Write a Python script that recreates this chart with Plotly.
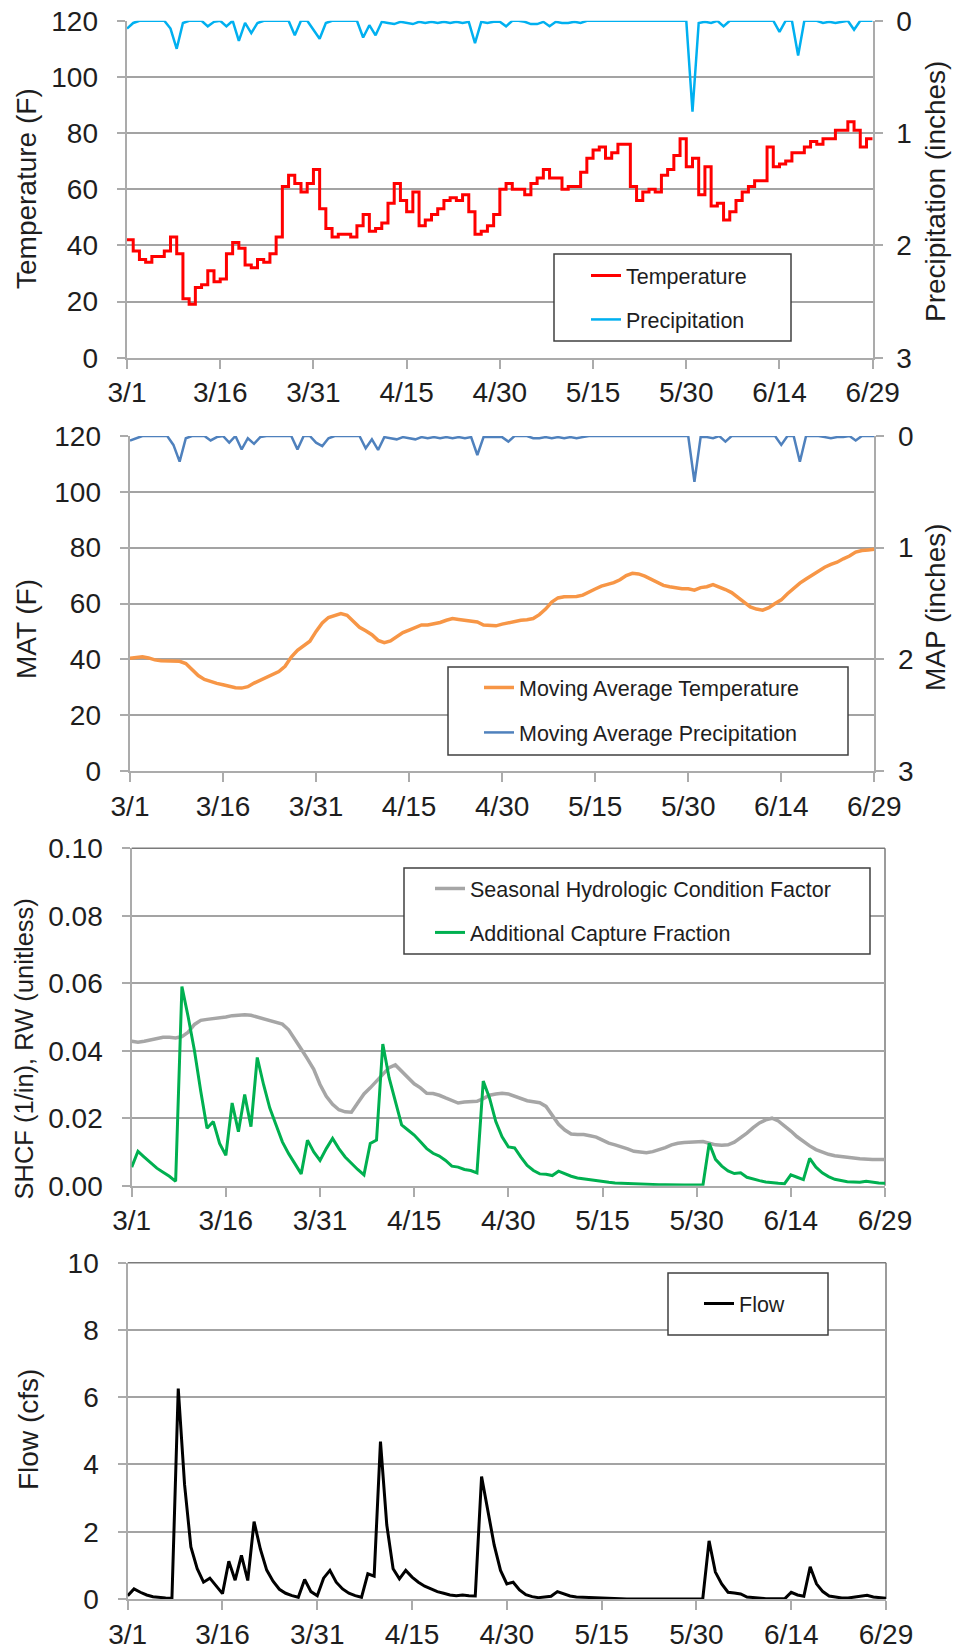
import pandas as pd
import plotly.graph_objects as go

# ---------------- data ----------------
START_DATE = "2013-03-01"
N_DAYS = 121
DATES = pd.date_range(START_DATE, periods=N_DAYS, freq="D").strftime("%Y-%m-%d").tolist()
TICK_LABELS = ["3/1", "3/16", "3/31", "4/15", "4/30", "5/15", "5/30", "6/14", "6/29"]
TICK_DATES = DATES[::15]

# daily temperature (F)
TEMPERATURE = [
    42, 38, 35, 34, 36, 36, 38, 43, 37, 21,
    19, 25, 26, 31, 27, 28, 37, 41, 39, 33,
    32, 35, 34, 37, 43, 61, 65, 62, 59, 62,
    67, 53, 46, 43, 44, 44, 43, 47, 51, 45,
    46, 48, 55, 62, 56, 52, 59, 47, 49, 51,
    53, 56, 57, 56, 58, 52, 44, 45, 47, 51,
    60, 62, 60, 60, 58, 62, 64, 67, 64, 64,
    60, 61, 61, 66, 71, 74, 75, 71, 73, 76,
    76, 61, 56, 59, 60, 59, 65, 67, 72, 78,
    68, 71, 58, 68, 54, 55, 49, 52, 56, 59,
    61, 63, 63, 75, 68, 69, 70, 73, 73, 75,
    77, 76, 78, 78, 81, 81, 84, 81, 75, 78,
    78,
]

# daily precipitation (inches)
PRECIPITATION = [
    0.07, 0.02, 0.00, 0.00, 0.00, 0.00, 0.00, 0.07, 0.25, 0.02,
    0.00, 0.00, 0.00, 0.05, 0.01, 0.00, 0.05, 0.00, 0.18, 0.02,
    0.11, 0.02, 0.00, 0.00, 0.00, 0.00, 0.00, 0.13, 0.00, 0.00,
    0.08, 0.16, 0.02, 0.00, 0.00, 0.00, 0.00, 0.00, 0.15, 0.04,
    0.13, 0.01, 0.02, 0.03, 0.01, 0.02, 0.03, 0.01, 0.02, 0.01,
    0.02, 0.01, 0.02, 0.01, 0.02, 0.01, 0.20, 0.01, 0.02, 0.01,
    0.01, 0.05, 0.00, 0.00, 0.01, 0.03, 0.03, 0.01, 0.05, 0.01,
    0.02, 0.02, 0.01, 0.02, 0.00, 0.00, 0.00, 0.00, 0.00, 0.00,
    0.00, 0.00, 0.00, 0.00, 0.00, 0.00, 0.00, 0.00, 0.00, 0.00,
    0.00, 0.81, 0.02, 0.01, 0.02, 0.00, 0.05, 0.00, 0.00, 0.00,
    0.00, 0.00, 0.00, 0.00, 0.00, 0.10, 0.00, 0.00, 0.31, 0.00,
    0.00, 0.00, 0.02, 0.01, 0.02, 0.01, 0.00, 0.08, 0.00, 0.00,
    0.00,
]

# moving average temperature (F)
MAT = [
    40.4, 40.7, 40.9, 40.5, 39.8, 39.5, 39.5, 39.4, 39.3, 38.5,
    36.5, 34.2, 32.8, 32.0, 31.4, 30.9, 30.2, 29.8, 29.7, 30.2,
    31.5, 32.5, 33.6, 34.6, 35.6, 37.5, 40.8, 43.2, 44.8, 46.5,
    50.0, 53.0, 55.0, 55.8, 56.4, 55.8, 53.8, 51.5, 50.2, 48.8,
    46.8, 46.0, 46.6, 48.0, 49.6, 50.5, 51.5, 52.3, 52.3, 52.6,
    53.2, 54.0, 54.6, 54.3, 54.1, 53.8, 53.4, 52.3, 52.0, 52.0,
    52.6, 53.1, 53.6, 54.0, 54.2, 54.6, 56.0, 58.0, 60.5, 62.0,
    62.4, 62.3, 62.5, 63.0, 64.2, 65.2, 66.2, 66.8, 67.5, 68.5,
    70.0, 70.8, 70.6, 69.8, 68.8, 67.5, 66.5, 66.0, 65.6, 65.3,
    65.3, 64.8, 65.7, 66.0, 66.8, 66.0, 65.0, 63.9, 62.0, 60.5,
    58.8, 58.0, 57.6, 58.5, 60.0, 61.3, 63.5, 65.5, 67.3, 68.8,
    70.3, 71.8, 73.0, 74.0, 74.8, 76.0, 77.0, 78.4, 79.0, 79.2,
    79.4,
]

# moving average precipitation (inches)
MAP = [
    0.04, 0.02, 0.00, 0.00, 0.00, 0.00, 0.00, 0.08, 0.23, 0.02,
    0.00, 0.00, 0.00, 0.04, 0.01, 0.00, 0.06, 0.00, 0.12, 0.02,
    0.07, 0.01, 0.00, 0.00, 0.00, 0.00, 0.00, 0.12, 0.00, 0.00,
    0.06, 0.09, 0.02, 0.00, 0.00, 0.00, 0.00, 0.00, 0.11, 0.03,
    0.125, 0.01, 0.02, 0.03, 0.01, 0.02, 0.03, 0.01, 0.02, 0.01,
    0.02, 0.01, 0.02, 0.01, 0.02, 0.01, 0.17, 0.01, 0.01, 0.01,
    0.01, 0.05, 0.00, 0.00, 0.00, 0.02, 0.02, 0.01, 0.02, 0.01,
    0.02, 0.01, 0.02, 0.01, 0.00, 0.00, 0.00, 0.00, 0.00, 0.00,
    0.00, 0.00, 0.00, 0.00, 0.00, 0.00, 0.00, 0.00, 0.00, 0.00,
    0.00, 0.41, 0.01, 0.01, 0.02, 0.00, 0.05, 0.00, 0.00, 0.00,
    0.00, 0.00, 0.00, 0.00, 0.00, 0.08, 0.00, 0.00, 0.23, 0.00,
    0.00, 0.00, 0.01, 0.02, 0.01, 0.01, 0.00, 0.04, 0.00, 0.00,
    0.00,
]

# seasonal hydrologic condition factor (1/in)
SHCF = [
    0.0428, 0.0425, 0.0428, 0.0432, 0.0436, 0.0440, 0.0440, 0.0438, 0.0442, 0.0455,
    0.0478, 0.0490, 0.0493, 0.0495, 0.0497, 0.0500, 0.0504, 0.0506, 0.0507, 0.0505,
    0.0500, 0.0496, 0.0490, 0.0485, 0.0479, 0.0462, 0.0435, 0.0405, 0.0376, 0.0345,
    0.0300, 0.0265, 0.0241, 0.0225, 0.0219, 0.0218, 0.0245, 0.0272, 0.0290, 0.0310,
    0.0333, 0.0350, 0.0358, 0.0340, 0.0320, 0.0302, 0.0290, 0.0274, 0.0273, 0.0268,
    0.0260, 0.0252, 0.0245, 0.0248, 0.0249, 0.0250, 0.0258, 0.0268, 0.0272, 0.0274,
    0.0272, 0.0265, 0.0258, 0.0252, 0.0249, 0.0246, 0.0235, 0.0208, 0.0182, 0.0165,
    0.0153, 0.0152, 0.0152, 0.0148, 0.0144, 0.0135, 0.0126, 0.0121, 0.0116, 0.0109,
    0.0102, 0.0099, 0.0098, 0.0101, 0.0106, 0.0113, 0.0121, 0.0126, 0.0128, 0.0129,
    0.0130, 0.0131, 0.0126, 0.0121, 0.0120, 0.0121, 0.0129, 0.0142, 0.0156, 0.0172,
    0.0186, 0.0195, 0.0200, 0.0192, 0.0178, 0.0162, 0.0145, 0.0130, 0.0118, 0.0107,
    0.0099, 0.0093, 0.0089, 0.0086, 0.0084, 0.0082, 0.0080, 0.0078, 0.0078, 0.0078,
    0.0078,
]

# additional capture fraction (unitless)
ACF = [
    0.0055, 0.0102, 0.0085, 0.0068, 0.0052, 0.0040, 0.0028, 0.0013, 0.0590, 0.0500,
    0.0400, 0.0280, 0.0170, 0.0190, 0.0125, 0.0090, 0.0245, 0.0160, 0.0270, 0.0175,
    0.0380, 0.0300, 0.0230, 0.0180, 0.0130, 0.0095, 0.0065, 0.0035, 0.0135, 0.0100,
    0.0075, 0.0110, 0.0140, 0.0110, 0.0085, 0.0065, 0.0048, 0.0032, 0.0125, 0.0135,
    0.0420, 0.0320, 0.0250, 0.0180, 0.0165, 0.0150, 0.0130, 0.0110, 0.0096, 0.0088,
    0.0075, 0.0058, 0.0055, 0.0048, 0.0045, 0.0038, 0.0310, 0.0260, 0.0190, 0.0145,
    0.0115, 0.0112, 0.0085, 0.0060, 0.0045, 0.0035, 0.0034, 0.0030, 0.0043, 0.0035,
    0.0028, 0.0023, 0.0020, 0.0017, 0.0014, 0.0012, 0.0010, 0.0008, 0.0007, 0.0006,
    0.0005, 0.0004, 0.0004, 0.0003, 0.0003, 0.0003, 0.0002, 0.0002, 0.0002, 0.0002,
    0.0002, 0.0002, 0.0126, 0.0078, 0.0058, 0.0044, 0.0036, 0.0038, 0.0025, 0.0019,
    0.0015, 0.0011, 0.0008, 0.0007, 0.0006, 0.0032, 0.0025, 0.0018, 0.0081, 0.0055,
    0.0038, 0.0027, 0.0019, 0.0015, 0.0012, 0.0011, 0.0010, 0.0013, 0.0010, 0.0008,
    0.0007,
]

# flow (cfs)
FLOW = [
    0.10, 0.30, 0.20, 0.12, 0.07, 0.04, 0.03, 0.02, 6.26, 3.40,
    1.55, 0.90, 0.50, 0.62, 0.38, 0.16, 1.12, 0.56, 1.30, 0.55,
    2.30, 1.48, 0.86, 0.53, 0.29, 0.17, 0.10, 0.05, 0.58, 0.22,
    0.10, 0.62, 0.85, 0.50, 0.30, 0.17, 0.10, 0.05, 0.75, 0.68,
    4.68, 2.20, 0.90, 0.60, 0.85, 0.65, 0.50, 0.38, 0.30, 0.22,
    0.17, 0.12, 0.10, 0.12, 0.10, 0.09, 3.64, 2.60, 1.60, 0.85,
    0.45, 0.50, 0.27, 0.13, 0.07, 0.04, 0.05, 0.08, 0.22, 0.15,
    0.09, 0.06, 0.05, 0.04, 0.03, 0.02, 0.01, 0.01, 0.01, 0.00,
    0.00, 0.00, 0.00, 0.00, 0.00, 0.00, 0.00, 0.00, 0.00, 0.00,
    0.00, 0.00, 1.73, 0.80, 0.45, 0.20, 0.18, 0.15, 0.06, 0.04,
    0.02, 0.01, 0.01, 0.01, 0.01, 0.20, 0.12, 0.08, 0.96, 0.45,
    0.22, 0.09, 0.05, 0.03, 0.03, 0.05, 0.09, 0.11, 0.06, 0.03,
    0.02,
]

# ---------------- layout helpers ----------------
W, H = 956, 1651


def px(x):
    return x / W


def py(y):
    return 1 - y / H


FONT = "Liberation Sans, Arial, sans-serif"
TXT = "#1e1e1e"
AXC = "#ABABAB"
GRID = "#A3A3A3"
BORDER = "#7A7A7A"
TICKFONT = dict(family=FONT, size=28, color=TXT)
LEFT_LABEL_PAD = "\u00a0\u2009"    # gap between left tick labels and tick marks

PANELS = {
    1: dict(x=(127, 872.7), y=(20.7, 357.7)),
    2: dict(x=(130, 874.3), y=(436, 771)),
    3: dict(x=(131.7, 885), y=(848.3, 1185.7)),
    4: dict(x=(127.7, 886), y=(1262.7, 1599)),
}


def xdom(p):
    a, b = PANELS[p]["x"]
    return [px(a), px(b)]


def ydom(p):
    a, b = PANELS[p]["y"]
    return [py(b), py(a)]


def xaxis_cfg(p, anchor):
    return dict(
        type="date", domain=xdom(p), anchor=anchor,
        range=[DATES[0], DATES[-1]],
        tickmode="array", tickvals=TICK_DATES, ticktext=TICK_LABELS,
        ticks="outside", ticklen=9, tickwidth=1.5, tickcolor=AXC,
        showline=True, linecolor=AXC, linewidth=2,
        showgrid=False, zeroline=False, tickfont=TICKFONT,
        layer="below traces", automargin=False, fixedrange=True,
    )


def yaxis_cfg(p, anchor, rng, dtick, fmt=None, pad=LEFT_LABEL_PAD):
    d = dict(
        domain=ydom(p), anchor=anchor, range=rng, dtick=dtick, tick0=0,
        ticks="outside", ticklen=8, tickwidth=1.5, tickcolor=AXC,
        showline=True, linecolor=AXC, linewidth=2,
        showgrid=True, gridcolor=GRID, gridwidth=1.5,
        zeroline=False, tickfont=TICKFONT, layer="below traces",
        ticksuffix=pad,
        automargin=False, fixedrange=True,
    )
    if fmt:
        d["tickformat"] = fmt
    return d


def yaxis_right_cfg(anchor, overlay):
    return dict(
        overlaying=overlay, side="right", anchor=anchor, range=[3, 0], dtick=1, tick0=0,
        ticks="outside", ticklen=8, tickwidth=1.5, tickcolor=AXC,
        showline=True, linecolor=AXC, linewidth=2, showgrid=False, zeroline=False,
        tickfont=TICKFONT, layer="below traces",
        ticklabelposition="outside", ticklabelstandoff=8,
        automargin=False, fixedrange=True,
    )


fig = go.Figure()

# panel 1
fig.add_trace(go.Scatter(x=DATES, y=TEMPERATURE, name="Temperature", mode="lines",
                         line=dict(color="#FF0000", width=3, shape="hv"),
                         xaxis="x", yaxis="y", legend="legend", legendgroup="t",
                         cliponaxis=False))
fig.add_trace(go.Scatter(x=DATES, y=PRECIPITATION, name="Precipitation", mode="lines",
                         line=dict(color="#00B0F0", width=2.5),
                         xaxis="x", yaxis="y2", legend="legend", legendgroup="p",
                         cliponaxis=False))
# panel 2
fig.add_trace(go.Scatter(x=DATES, y=MAT, name="Moving Average Temperature", mode="lines",
                         line=dict(color="#F79646", width=3.5),
                         xaxis="x2", yaxis="y3", legend="legend2", legendgroup="mat",
                         cliponaxis=False))
fig.add_trace(go.Scatter(x=DATES, y=MAP, name="Moving Average Precipitation", mode="lines",
                         line=dict(color="#4F81BD", width=2.5),
                         xaxis="x2", yaxis="y4", legend="legend2", legendgroup="map",
                         cliponaxis=False))
# panel 3
fig.add_trace(go.Scatter(x=DATES, y=SHCF, name="Seasonal Hydrologic Condition Factor", mode="lines",
                         line=dict(color="#A6A6A6", width=3.5),
                         xaxis="x3", yaxis="y5", legend="legend3", legendgroup="shcf",
                         cliponaxis=False))
fig.add_trace(go.Scatter(x=DATES, y=ACF, name="Additional Capture Fraction", mode="lines",
                         line=dict(color="#00B050", width=3),
                         xaxis="x3", yaxis="y5", legend="legend3", legendgroup="acf",
                         cliponaxis=False))
# panel 4
fig.add_trace(go.Scatter(x=DATES, y=FLOW, name="Flow", mode="lines",
                         line=dict(color="#000000", width=3),
                         xaxis="x4", yaxis="y6", legend="legend4", legendgroup="flow",
                         cliponaxis=False))

LEGEND_FONT = dict(family=FONT, size=21.5, color=TXT)


def legend_cfg(xpx, ypx, gap=14):
    return dict(x=px(xpx), y=py(ypx), xanchor="left", yanchor="top",
                bgcolor="rgba(0,0,0,0)", borderwidth=0, font=LEGEND_FONT,
                tracegroupgap=gap, itemclick=False, itemdoubleclick=False)


# legend frames (x0, y0, x1, y1) in pixels
LEGEND_BOXES = [(554, 254, 791, 341), (448, 667, 848, 755), (404, 868, 870, 954), (668, 1273, 828, 1335)]
shapes = []
for (x0, y0, x1, y1) in LEGEND_BOXES:
    shapes.append(dict(type="rect", xref="paper", yref="paper",
                       x0=px(x0), x1=px(x1), y0=py(y1), y1=py(y0),
                       fillcolor="white", line=dict(color="#404040", width=1.5), layer="above"))
# top / right frame lines for the lower two panels
for xa, ya in (("x3", "y5"), ("x4", "y6")):
    shapes.append(dict(type="line", xref=f"{xa} domain", yref=f"{ya} domain",
                       x0=0, x1=1, y0=1, y1=1, line=dict(color=BORDER, width=1.5), layer="below"))
    shapes.append(dict(type="line", xref=f"{xa} domain", yref=f"{ya} domain",
                       x0=1, x1=1, y0=0, y1=1, line=dict(color=BORDER, width=1.5), layer="below"))

TITLES = [
    ("Temperature (F)", 27, 189, 28),
    ("Precipitation (inches)", 936, 192, 28),
    ("MAT (F)", 27, 629, 28),
    ("MAP (inches)", 935, 607, 28),
    ("SHCF (1/in), RW (unitless)", 23.5, 1049, 25.5),
    ("Flow (cfs)", 28, 1430, 28),
]
annotations = [dict(text=t, x=px(x), y=py(y), xref="paper", yref="paper",
                    xanchor="center", yanchor="middle", textangle=-90, showarrow=False,
                    font=dict(family=FONT, size=s, color=TXT))
               for (t, x, y, s) in TITLES]

fig.update_layout(
    template="none",
    width=W, height=H, margin=dict(l=0, r=0, t=0, b=0),
    paper_bgcolor="white", plot_bgcolor="white",
    font=dict(family=FONT, color=TXT),
    showlegend=True,
    xaxis=xaxis_cfg(1, "y"),
    yaxis=yaxis_cfg(1, "x", [0, 120], 20),
    yaxis2=yaxis_right_cfg("x", "y"),
    xaxis2=xaxis_cfg(2, "y3"),
    yaxis3=yaxis_cfg(2, "x2", [0, 120], 20),
    yaxis4=yaxis_right_cfg("x2", "y3"),
    xaxis3=xaxis_cfg(3, "y5"),
    yaxis5=yaxis_cfg(3, "x3", [0, 0.10], 0.02, ".2f"),
    xaxis4=xaxis_cfg(4, "y6"),
    yaxis6=yaxis_cfg(4, "x4", [0, 10], 2),
    legend=legend_cfg(586, 255, 13),
    legend2=legend_cfg(479, 667, 14),
    legend3=legend_cfg(430, 868, 13),
    legend4=legend_cfg(699, 1283, 14),
    shapes=shapes,
    annotations=annotations,
)

fig.write_html("out.html")
